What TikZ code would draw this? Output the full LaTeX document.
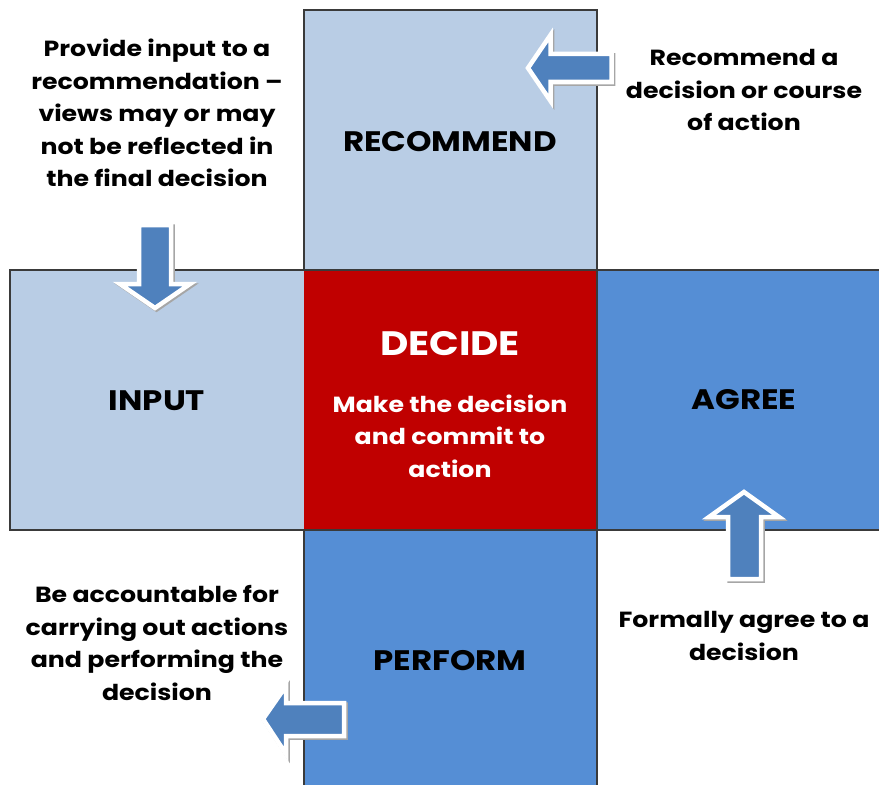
\documentclass[tikz,border=0pt]{standalone}
\usepackage{fontspec}
\setmainfont{Poppins}[FakeStretch=1.15]
\begin{document}
\definecolor{lightblue}{HTML}{B9CDE5}
\definecolor{midblue}{HTML}{558ED5}
\definecolor{decidered}{HTML}{C00000}
\definecolor{arrowblue}{HTML}{4F81BD}
\definecolor{gridline}{HTML}{3A3A3A}
\begin{tikzpicture}[x=1bp,y=-1bp,
  cell/.style={draw=gridline,line width=1.6bp},
  note/.style={align=center,font=\bfseries\fontsize{22}{32.5}\selectfont,text=black,inner sep=0pt},
  title/.style={font=\bfseries\fontsize{28.3}{32}\selectfont,inner sep=0pt},
  blockarrow/.style={fill=arrowblue,draw=white,line width=4.5bp,line join=miter},
  arrowshadow/.style={fill=black!35,draw=black!35,line width=4.5bp,line join=miter}]
\useasboundingbox (0,0) rectangle (879,785);
\begin{scope}
\clip (0,0) rectangle (879,785);
% the five cells of the cross
\fill[lightblue] (304,10) rectangle (597,270);
\fill[lightblue] (10,270) rectangle (304,530);
\fill[midblue] (597,270) rectangle (885,530);
\fill[midblue] (304,530) rectangle (597,790);
\fill[decidered] (304,270) rectangle (597,530);
\draw[cell] (304,270) -- (304,10) -- (597,10) -- (597,790);
\draw[cell] (304,790) -- (304,530);
\draw[cell] (885,270) -- (10,270) -- (10,530) -- (885,530);
\end{scope}

% block arrows: shadow, white rim, blue fill
% recommend <- (pointing left)
\path[arrowshadow] (529.5,69.5) -- (552,36.5) -- (552,55.5) -- (613,55.5) -- (613,83.5) -- (552,83.5) -- (552,102.5) -- cycle;
\path[blockarrow] (528,68) -- (550.5,35) -- (550.5,54) -- (611.5,54) -- (611.5,82) -- (550.5,82) -- (550.5,101) -- cycle;
% input (pointing down)
\path[arrowshadow] (156.5,309.5) -- (121.5,285.5) -- (140.5,285.5) -- (140.5,226.5) -- (172.5,226.5) -- (172.5,285.5) -- (191.5,285.5) -- cycle;
\path[blockarrow] (155,308) -- (120,284) -- (139,284) -- (139,225) -- (171,225) -- (171,284) -- (190,284) -- cycle;
% agree (pointing up)
\path[arrowshadow] (745.5,493.5) -- (780.5,518.5) -- (762.5,518.5) -- (762.5,580.5) -- (729.5,580.5) -- (729.5,518.5) -- (710.5,518.5) -- cycle;
\path[blockarrow] (744,492) -- (779,517) -- (761,517) -- (761,579) -- (728,579) -- (728,517) -- (709,517) -- cycle;
% perform -> (pointing left)
\path[arrowshadow] (264.5,720.5) -- (287.5,687.5) -- (287.5,704.5) -- (345.5,704.5) -- (345.5,737.5) -- (287.5,737.5) -- (287.5,755.5) -- cycle;
\path[blockarrow] (263,719) -- (286,686) -- (286,703) -- (344,703) -- (344,736) -- (286,736) -- (286,754) -- cycle;

% cell titles
\node[title] (recommend) at (450,142) {RECOMMEND};
\node[title] (input) at (157,401) {INPUT};
\node[title] (agree) at (744,400) {AGREE};
\node[title] (perform) at (450,661) {PERFORM};
\node[font=\bfseries\fontsize{34}{40}\selectfont,text=white,inner sep=0pt] (decide) at (450,344) {DECIDE};
\node[note,text=white] (decidetext) at (450,436) {Make the decision\\and commit to\\action};

% notes around the cross
\node[note] (inputnote) at (157,113) {Provide input to a\\recommendation –\\views may or may\\not be reflected in\\the final decision};
\node[note] (recnote) at (744,90) {Recommend a\\decision or course\\of action};
\node[note] (perfnote) at (157,643) {Be accountable for\\carrying out actions\\and performing the\\decision};
\node[note] (agreenote) at (744,636) {Formally agree to a\\decision};
\end{tikzpicture}
\end{document}
